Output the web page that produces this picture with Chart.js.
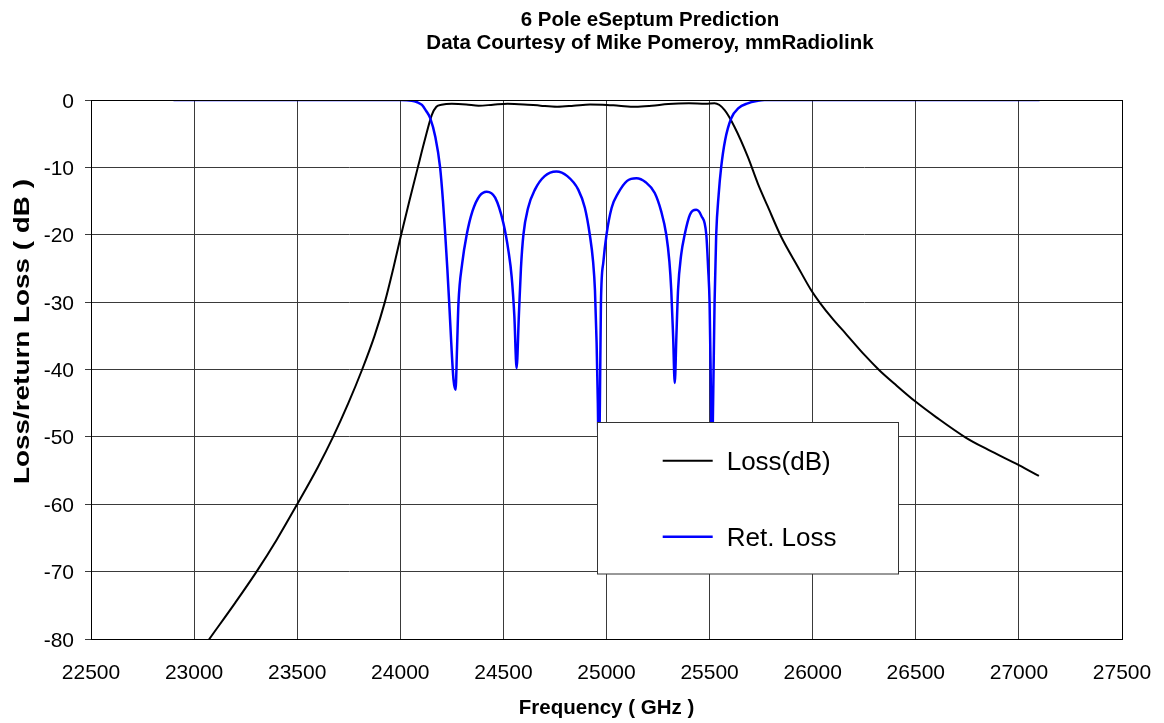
<!DOCTYPE html>
<html><head><meta charset="utf-8">
<script src="https://cdn.jsdelivr.net/npm/chart.js@4/dist/chart.umd.min.js"></script>
<style>html,body{margin:0;padding:0;background:#fff}canvas{display:block}</style>
</head><body>
<canvas id="c" width="1164" height="723"></canvas>
<script>
const titleLines = ['6 Pole eSeptum Prediction', 'Data Courtesy of Mike Pomeroy, mmRadiolink'];
const xTitle = 'Frequency ( GHz )';
const yTitle = 'Loss/return Loss ( dB )';
const seriesNames = ['Loss(dB)', 'Ret. Loss'];
const xTicks = [22500, 23000, 23500, 24000, 24500, 25000, 25500, 26000, 26500, 27000, 27500];
const yTicks = [0, -10, -20, -30, -40, -50, -60, -70, -80];

const lossFreq = [22900, 23000, 23074, 23200, 23303, 23400, 23500, 23600, 23674, 23748, 23815, 23875, 23925, 23966, 24004, 24044, 24085, 24120, 24153, 24175, 24200, 24250, 24320, 24380, 24450, 24520, 24600, 24680, 24760, 24840, 24920, 24980, 25060, 25140, 25220, 25300, 25400, 25480, 25524, 25573, 25621, 25685, 25734, 25782, 25847, 25927, 25992, 26035, 26100, 26161, 26250, 26323, 26400, 26500, 26600, 26742, 26850, 27000, 27097];
const lossDb = [-87.5, -83.2, -80, -74.6, -70, -65.3, -60, -54.5, -50, -45, -40, -35, -30, -25, -20, -15, -10, -5.8, -2.2, -1.0, -0.7, -0.55, -0.65, -0.85, -0.7, -0.55, -0.65, -0.85, -1.0, -0.85, -0.65, -0.7, -0.85, -1.0, -0.85, -0.6, -0.5, -0.55, -0.5, -1.5, -4.0, -8.4, -12.4, -15.8, -20.3, -24.7, -28.2, -30.1, -32.6, -34.7, -37.8, -40.1, -42.2, -44.8, -47.1, -50.1, -51.9, -54.2, -55.8];

const retFreq = [22900, 24000, 24056, 24080, 24105, 24125, 24145, 24170, 24193, 24207, 24218, 24228, 24237, 24247, 24258, 24268, 24275, 24282, 24300, 24322, 24350, 24385, 24419, 24460, 24500, 24525, 24540, 24553, 24564, 24575, 24585, 24597, 24620, 24653, 24700, 24757, 24810, 24863, 24895, 24919, 24935, 24944, 24952, 24958, 24963, 24968, 24973, 24985, 25000, 25025, 25057, 25100, 25145, 25190, 25234, 25265, 25290, 25305, 25314, 25323, 25331, 25339, 25347, 25362, 25379, 25405, 25435, 25460, 25484, 25493, 25500, 25505, 25511, 25517, 25524, 25532, 25544, 25556, 25575, 25605, 25640, 25685, 25730, 25766, 27100];
const retDb = [0, 0, -0.1, -0.3, -0.74, -1.6, -2.7, -5.5, -10, -15, -20, -25, -30, -36, -41.5, -43, -37, -30.2, -24.3, -20, -16.5, -14.2, -13.6, -14.5, -18.3, -22.5, -26.2, -32, -39.8, -32, -25, -20, -16, -13.3, -11.3, -10.6, -11.3, -13.3, -16, -20, -24, -28.2, -36, -45, -55, -45, -30.2, -24, -20, -16, -13.8, -12.0, -11.6, -12.2, -13.8, -16.5, -20, -24, -28.2, -35, -42, -35, -28.2, -23, -20, -17, -16.3, -17.2, -20, -25, -30.2, -40, -55, -45, -30.2, -20, -14, -10, -6, -2.7, -1.2, -0.5, -0.15, 0, 0];

const FONT = '"Liberation Sans", Arial, sans-serif';

const decor = {
  id: 'decor',
  beforeDraw(chart) {
    const ctx = chart.ctx;
    ctx.save(); ctx.fillStyle = '#fff'; ctx.fillRect(0, 0, chart.width, chart.height); ctx.restore();
  },
  afterDatasetsDraw(chart) {
    const ctx = chart.ctx, a = chart.chartArea;
    ctx.save();
    ctx.strokeStyle = '#000'; ctx.lineWidth = 1;
    ctx.strokeRect(Math.round(a.left) + 0.5, Math.round(a.top) + 0.5, Math.round(a.right - a.left), Math.round(a.bottom - a.top));
    const lx = 597.5, ly = 422.5, lw = 301, lh = 151.5;
    ctx.fillStyle = '#fff'; ctx.fillRect(lx, ly, lw, lh);
    ctx.strokeStyle = '#333'; ctx.lineWidth = 1; ctx.strokeRect(lx, ly, lw, lh);
    const ds = chart.data.datasets;
    const rows = [{ y: 460.7, ds: ds[1], base: 470 }, { y: 536.7, ds: ds[0], base: 546 }];
    rows.forEach((r, i) => {
      ctx.strokeStyle = r.ds.borderColor; ctx.lineWidth = r.ds.borderWidth;
      ctx.beginPath(); ctx.moveTo(662.7, r.y); ctx.lineTo(712.7, r.y); ctx.stroke();
      ctx.fillStyle = '#000'; ctx.font = '26px ' + FONT; ctx.textAlign = 'left'; ctx.textBaseline = 'alphabetic';
      ctx.fillText(seriesNames[i], 726.7, r.base);
    });
    ctx.restore();
  },
  afterDraw(chart) {
    const ctx = chart.ctx, xs = chart.scales.x, ys = chart.scales.y;
    ctx.save();
    ctx.fillStyle = '#000';
    ctx.textBaseline = 'alphabetic';
    ctx.font = 'bold 20.5px ' + FONT; ctx.textAlign = 'center';
    ctx.fillText(titleLines[0], 650, 26);
    ctx.fillText(titleLines[1], 650, 48.5);
    ctx.font = '21px ' + FONT;
    ctx.textAlign = 'center';
    xTicks.forEach(v => ctx.fillText(String(v), xs.getPixelForValue(v), 679));
    ctx.textAlign = 'right';
    yTicks.forEach(v => ctx.fillText(String(v), 74, ys.getPixelForValue(v) + 7.5));
    ctx.font = 'bold 20.5px ' + FONT; ctx.textAlign = 'center';
    ctx.fillText(xTitle, (chart.chartArea.left + chart.chartArea.right) / 2, 714);
    ctx.translate(29, 331.5); ctx.rotate(-Math.PI / 2);
    ctx.font = 'bold 22px ' + FONT;
    const w = ctx.measureText(yTitle).width;
    ctx.scale(305 / w, 1);
    ctx.fillText(yTitle, 0, 0);
    ctx.restore();
  }
};

new Chart(document.getElementById('c'), {
  type: 'line',
  data: {
    datasets: [
      { label: seriesNames[1], data: retFreq.map((x, i) => ({ x, y: retDb[i] })), borderColor: '#0000ff', borderWidth: 2.5, pointRadius: 0, cubicInterpolationMode: 'monotone', order: 0 },
      { label: seriesNames[0], data: lossFreq.map((x, i) => ({ x, y: lossDb[i] })), borderColor: '#000000', borderWidth: 2, pointRadius: 0, cubicInterpolationMode: 'monotone', order: 1 }
    ]
  },
  options: {
    responsive: false, animation: false, devicePixelRatio: 1, events: [],
    layout: { padding: { top: 100, right: 42, left: 0, bottom: 0 } },
    plugins: { legend: { display: false }, title: { display: false }, tooltip: { enabled: false } },
    scales: {
      x: {
        type: 'linear', min: 22500, max: 27500,
        afterBuildTicks: s => { s.ticks = xTicks.map(v => ({ value: v })); },
        afterFit: s => { s.height = 84; },
        ticks: { display: false },
        grid: { color: '#3a3a3a', lineWidth: 1, drawTicks: false },
        border: { display: true, color: '#000' }
      },
      y: {
        type: 'linear', min: -80, max: 0,
        afterBuildTicks: s => { s.ticks = yTicks.map(v => ({ value: v })); },
        afterFit: s => { s.width = 91; },
        ticks: { display: false },
        grid: { color: '#3a3a3a', lineWidth: 1, drawTicks: true, tickLength: 6 },
        border: { display: true, color: '#000' }
      }
    }
  },
  plugins: [decor]
});
</script>
</body></html>
